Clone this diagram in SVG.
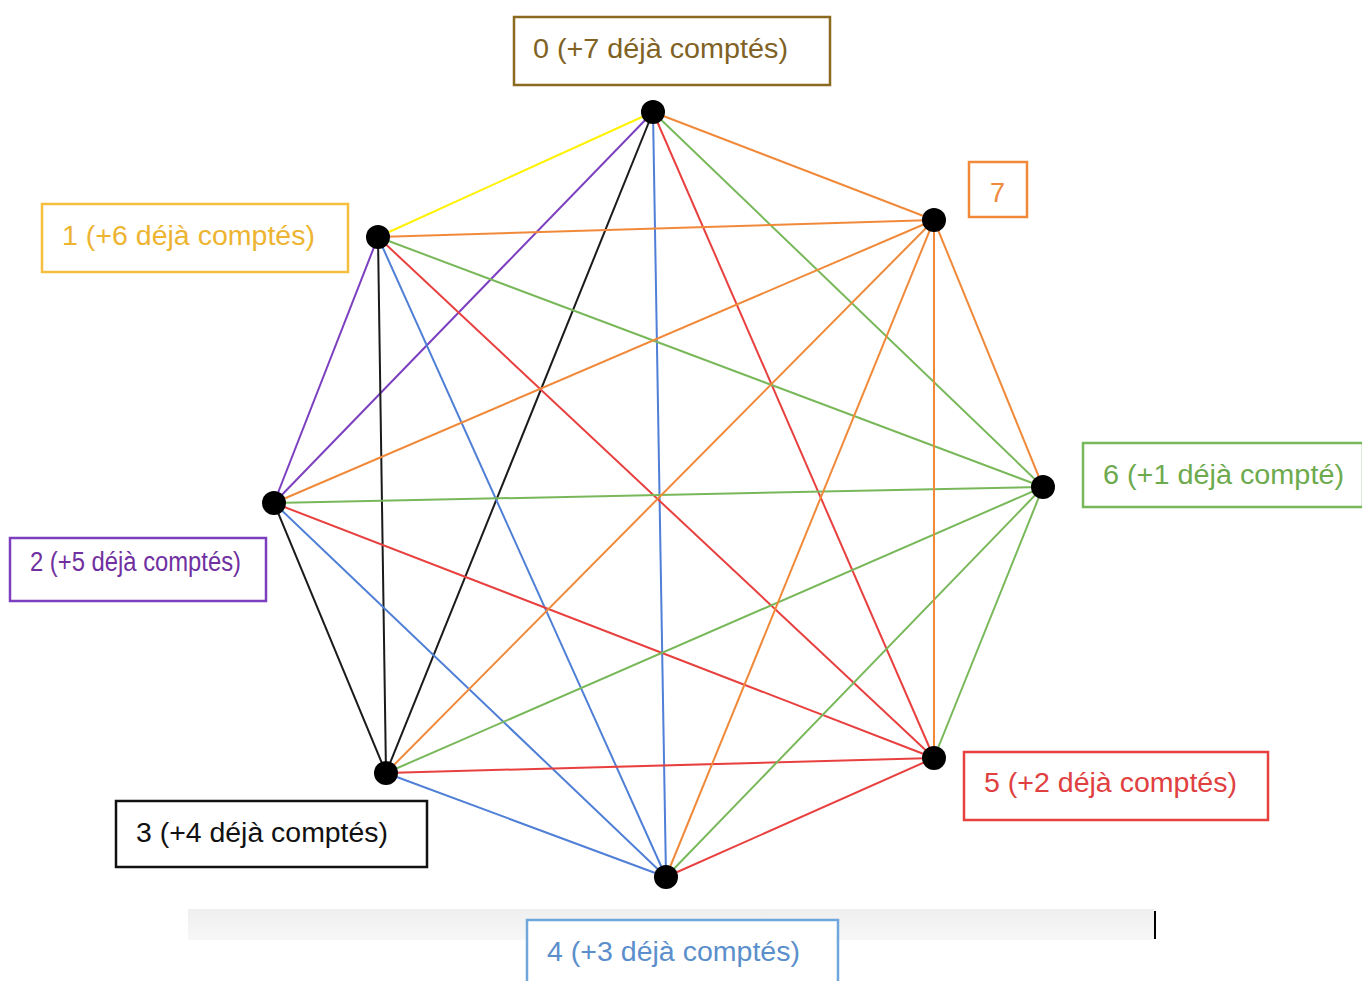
<svg xmlns="http://www.w3.org/2000/svg" width="1362" height="981" viewBox="0 0 1362 981">
<defs>
<style>
.lbl{fill:#fff;stroke-width:2.5}
.t{font-family:"Liberation Sans",Arial,sans-serif;font-size:27px}
.e{stroke-width:2;fill:none}
.y{stroke:#FFF200}.pu{stroke:#7B3FBF}.k{stroke:#1a1a1a}.b{stroke:#4F7FD6}.r{stroke:#E8403F}.g{stroke:#79B85A}.o{stroke:#F08A3A}
.n{fill:#000}
</style>
<linearGradient id="bar" x1="0" y1="0" x2="0" y2="1"><stop offset="0" stop-color="#efefef"/><stop offset="1" stop-color="#f7f7f7"/></linearGradient>
</defs>
<rect width="1362" height="981" fill="#fff"/>
<g id="bar-strip">
<rect x="188" y="909" width="966" height="31" fill="url(#bar)"/>
<line x1="1155" y1="911" x2="1155" y2="939" stroke="#000" stroke-width="2"/>
</g>
<g id="connectors">
<line class="e y" x1="653" y1="112" x2="378" y2="237"/>
<line class="e pu" x1="653" y1="112" x2="274" y2="503"/>
<line class="e k" x1="653" y1="112" x2="386" y2="773"/>
<line class="e b" x1="653" y1="112" x2="666" y2="877"/>
<line class="e r" x1="653" y1="112" x2="934" y2="758"/>
<line class="e g" x1="653" y1="112" x2="1043" y2="487"/>
<line class="e o" x1="653" y1="112" x2="934" y2="220"/>
<line class="e pu" x1="378" y1="237" x2="274" y2="503"/>
<line class="e k" x1="378" y1="237" x2="386" y2="773"/>
<line class="e b" x1="378" y1="237" x2="666" y2="877"/>
<line class="e r" x1="378" y1="237" x2="934" y2="758"/>
<line class="e g" x1="378" y1="237" x2="1043" y2="487"/>
<line class="e o" x1="378" y1="237" x2="934" y2="220"/>
<line class="e k" x1="274" y1="503" x2="386" y2="773"/>
<line class="e b" x1="274" y1="503" x2="666" y2="877"/>
<line class="e r" x1="274" y1="503" x2="934" y2="758"/>
<line class="e g" x1="274" y1="503" x2="1043" y2="487"/>
<line class="e o" x1="274" y1="503" x2="934" y2="220"/>
<line class="e b" x1="386" y1="773" x2="666" y2="877"/>
<line class="e r" x1="386" y1="773" x2="934" y2="758"/>
<line class="e g" x1="386" y1="773" x2="1043" y2="487"/>
<line class="e o" x1="386" y1="773" x2="934" y2="220"/>
<line class="e r" x1="666" y1="877" x2="934" y2="758"/>
<line class="e g" x1="666" y1="877" x2="1043" y2="487"/>
<line class="e o" x1="666" y1="877" x2="934" y2="220"/>
<line class="e g" x1="934" y1="758" x2="1043" y2="487"/>
<line class="e o" x1="934" y1="758" x2="934" y2="220"/>
<line class="e o" x1="1043" y1="487" x2="934" y2="220"/>
</g>
<g id="node-0"><circle class="n" cx="653" cy="112" r="12"/>
<rect class="lbl" x="514" y="17" width="316" height="68" stroke="#8A6A1E"/>
<text class="t" x="533" y="58" fill="#7F6224" textLength="255" lengthAdjust="spacingAndGlyphs">0 (+7 déjà comptés)</text></g>
<g id="node-1"><circle class="n" cx="378" cy="237" r="12"/>
<rect class="lbl" x="42" y="204" width="306" height="68" stroke="#F5BE3C"/>
<text class="t" x="62" y="245" fill="#EDB432" textLength="253" lengthAdjust="spacingAndGlyphs">1 (+6 déjà comptés)</text></g>
<g id="node-7"><circle class="n" cx="934" cy="220" r="12"/>
<rect class="lbl" x="969" y="162" width="58" height="55" stroke="#F08A3A"/>
<text class="t" x="990" y="202" fill="#F08A3A">7</text></g>
<g id="node-6"><circle class="n" cx="1043" cy="487" r="12"/>
<rect class="lbl" x="1083" y="443" width="280" height="64" stroke="#79B85A"/>
<text class="t" x="1103" y="484" fill="#6DAA4E" textLength="241" lengthAdjust="spacingAndGlyphs">6 (+1 déjà compté)</text></g>
<g id="node-2"><circle class="n" cx="274" cy="503" r="12"/>
<rect class="lbl" x="10" y="538" width="256" height="63" stroke="#7B3FBF"/>
<text class="t" x="30" y="571" fill="#7030A0" font-size="22" textLength="211" lengthAdjust="spacingAndGlyphs">2 (+5 déjà comptés)</text></g>
<g id="node-5"><circle class="n" cx="934" cy="758" r="12"/>
<rect class="lbl" x="964" y="752" width="304" height="68" stroke="#E8403F"/>
<text class="t" x="984" y="792" fill="#E0403F" textLength="253" lengthAdjust="spacingAndGlyphs">5 (+2 déjà comptés)</text></g>
<g id="node-3"><circle class="n" cx="386" cy="773" r="12"/>
<rect class="lbl" x="116" y="801" width="311" height="66" stroke="#111"/>
<text class="t" x="136" y="842" fill="#111" textLength="252" lengthAdjust="spacingAndGlyphs">3 (+4 déjà comptés)</text></g>
<g id="node-4"><circle class="n" cx="666" cy="877" r="12"/>
<rect class="lbl" x="527" y="920" width="311" height="70" stroke="#6FA6DC"/>
<text class="t" x="547" y="961" fill="#5B8FCB" textLength="253" lengthAdjust="spacingAndGlyphs">4 (+3 déjà comptés)</text></g>
</svg>
